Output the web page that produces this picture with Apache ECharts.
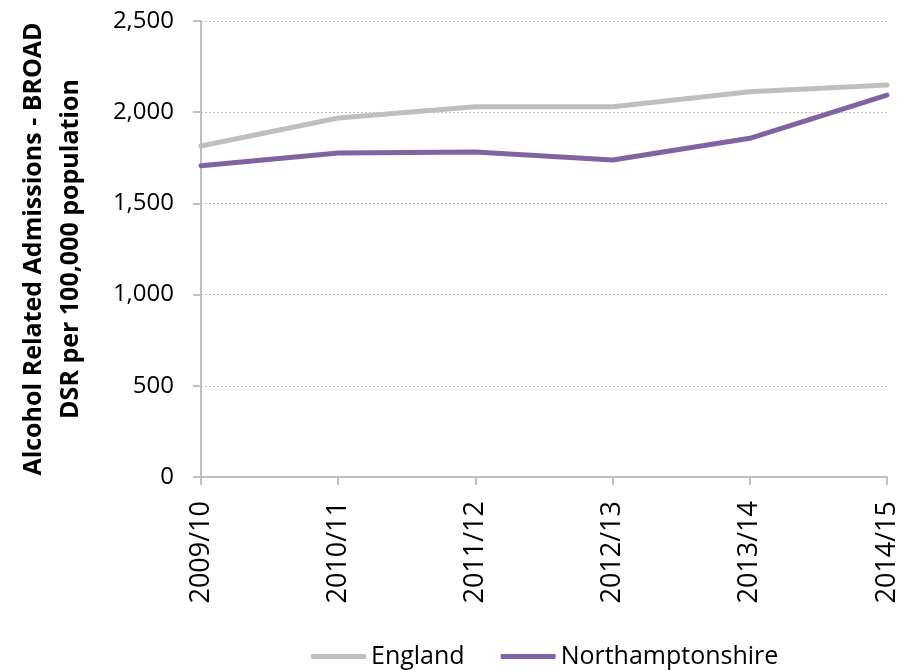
<!DOCTYPE html>
<html>
<head>
<meta charset="utf-8">
<script src="https://cdn.jsdelivr.net/npm/echarts@6/dist/echarts.min.js"></script>
<style>
  html, body { margin: 0; padding: 0; background: #fff; }
  #chart { width: 899px; height: 670px; }
</style>
</head>
<body>
<div id="chart"></div>
<script>
var years = ['2009/10', '2010/11', '2011/12', '2012/13', '2013/14', '2014/15'];
var englandValues = [1815, 1968, 2030, 2030, 2112, 2149];
var northantsValues = [1707, 1776, 1782, 1738, 1857, 2094];
var yTitle = 'Alcohol Related Admissions - BROAD\nDSR per 100,000 population';

var FONT = '"Open Sans", "Liberation Sans", sans-serif';
var myChart = echarts.init(document.getElementById('chart'));

var option = {
    animation: false,
    grid: { left: 201, right: 12, top: 21, bottom: 193, containLabel: false, outerBoundsMode: 'none' },
    legend: {
        top: 639,
        left: 306,
        itemWidth: 55,
        itemHeight: 5,
        itemGap: 36,
        icon: 'roundRect',
        textStyle: { fontFamily: FONT, fontSize: 25, color: '#000' },
        data: ['England', 'Northamptonshire']
    },
    xAxis: {
        type: 'category',
        data: years,
        boundaryGap: false,
        axisLine: { lineStyle: { color: '#bfbfbf', width: 2 } },
        axisTick: { show: true, alignWithLabel: true, length: 8, lineStyle: { color: '#bfbfbf', width: 2 } },
        axisLabel: { rotate: 90, fontFamily: FONT, fontSize: 27, color: '#000', margin: 24 }
    },
    yAxis: {
        type: 'value',
        min: 0,
        max: 2500,
        interval: 500,
        name: yTitle,
        nameLocation: 'middle',
        nameGap: 112,
        nameRotate: 90,
        nameTextStyle: { fontFamily: FONT, fontSize: 25, fontWeight: 'bold', color: '#000', lineHeight: 37 },
        axisLine: { show: true, lineStyle: { color: '#bfbfbf', width: 2 } },
        axisTick: { show: true, length: 8, lineStyle: { color: '#bfbfbf', width: 2 } },
        axisLabel: {
            fontFamily: FONT, fontSize: 24, color: '#000', margin: 27,
            formatter: function (v) { return v.toLocaleString('en-GB'); }
        },
        splitLine: { lineStyle: { color: '#bfbfbf', type: [2, 2], width: 1 } }
    },
    series: [
        {
            name: 'England',
            type: 'line',
            data: englandValues,
            symbol: 'none',
            lineStyle: { color: '#bfbfbf', width: 5, cap: 'round' },
            itemStyle: { color: '#bfbfbf' }
        },
        {
            name: 'Northamptonshire',
            type: 'line',
            data: northantsValues,
            symbol: 'none',
            lineStyle: { color: '#8064a2', width: 5, cap: 'round' },
            itemStyle: { color: '#8064a2' }
        }
    ]
};

myChart.setOption(option);
</script>
</body>
</html>
